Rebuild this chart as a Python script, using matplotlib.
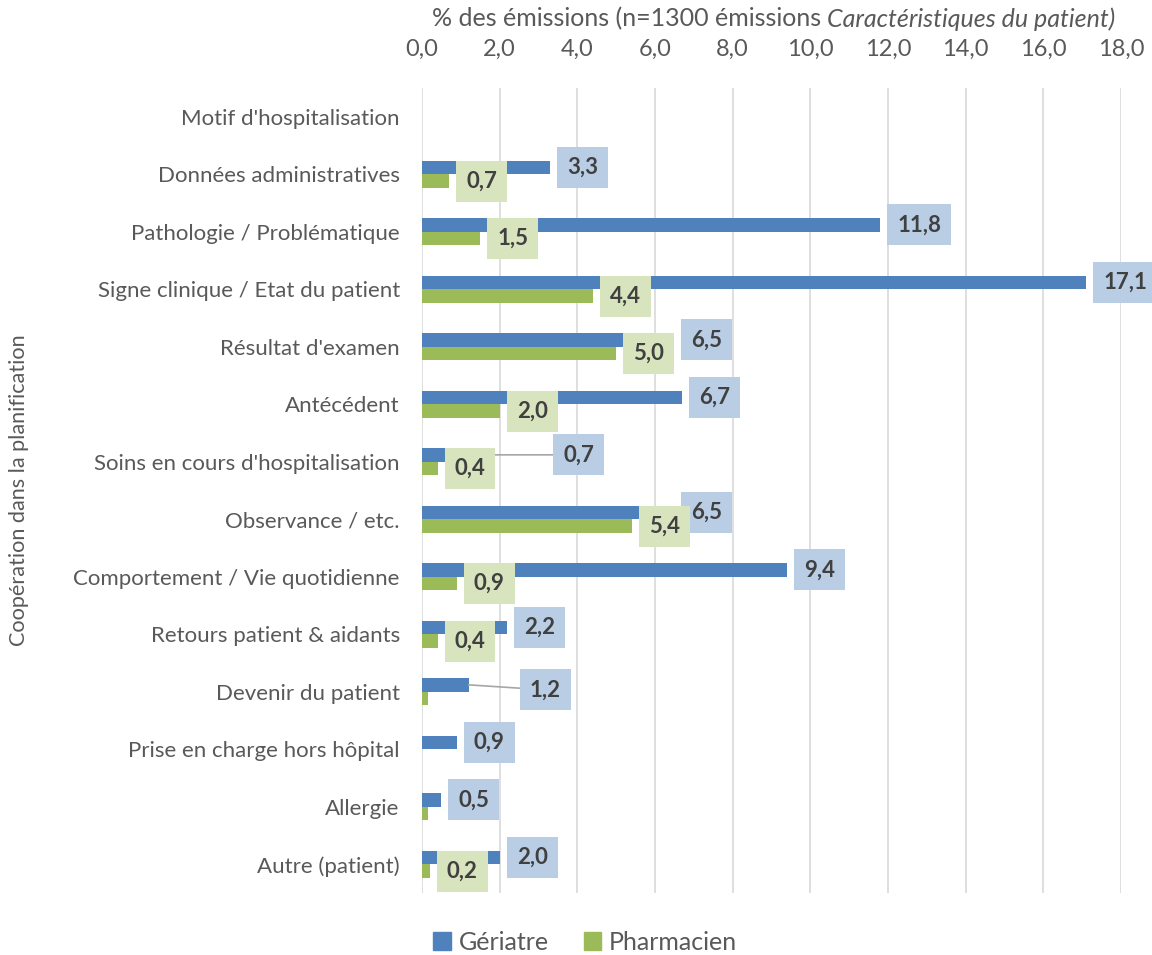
import matplotlib
matplotlib.use("Agg")
import matplotlib.pyplot as plt
from matplotlib.patches import Patch

categories = ["Motif d'hospitalisation", "Données administratives", "Pathologie / Problématique",
              "Signe clinique / Etat du patient", "Résultat d'examen", "Antécédent",
              "Soins en cours d'hospitalisation", "Observance / etc.", "Comportement / Vie quotidienne",
              "Retours patient & aidants", "Devenir du patient", "Prise en charge hors hôpital",
              "Allergie", "Autre (patient)"]
geriatre = [0, 3.3, 11.8, 17.1, 6.5, 6.7, 0.7, 6.5, 9.4, 2.2, 1.2, 0.9, 0.5, 2.0]
pharmacien = [0, 0.7, 1.5, 4.4, 5.0, 2.0, 0.4, 5.4, 0.9, 0.4, 0.15, 0, 0.15, 0.2]
# which labels are displayed (Excel hid some)
show_g = [False] + [True] * 13
show_p = [False, True, True, True, True, True, True, True, True, True, False, False, False, True]
xticks = [0, 2, 4, 6, 8, 10, 12, 14, 16, 18]

plt.rcParams['font.family'] = ['Lato', 'DejaVu Sans']
BLUE, GREEN = '#4F81BD', '#9BBB59'
BLUE_BOX, GREEN_BOX = '#B9CDE5', '#D7E4BD'
TXT = '#595959'

fig = plt.figure(figsize=(11.52, 9.55), dpi=100)
ax = fig.add_axes([422/1152, 1-893/955, (1121-422)/1152, (893-88)/955])

n = len(categories)
ys = list(range(n))
off, h = 0.12, 0.235
ax.barh([y - off for y in ys], geriatre, height=h, color=BLUE, zorder=3)
ax.barh([y + off for y in ys], pharmacien, height=h, color=GREEN, zorder=3)

ax.set_ylim(n - 0.5, -0.5)
ax.set_xlim(0, 18)
ax.set_yticks(ys)
ax.set_yticklabels(categories, fontsize=16, color=TXT)
ax.xaxis.tick_top()
ax.set_xticks(xticks)
ax.set_xticklabels([f"{v:.1f}".replace('.', ',') for v in xticks], fontsize=17, color=TXT)
ax.tick_params(axis='y', length=0, pad=16)
ax.tick_params(axis='x', length=0, pad=20)
ax.grid(axis='x', color='#D9D9D9', linewidth=1.2, zorder=0)
for s in ax.spines.values():
    s.set_visible(False)

# special label placements (pixels offset) for a few labels with leader lines
special_g = {6: (114, 0), 10: (61, -5)}

def fmt(v):
    return f"{v:.1f}".replace('.', ',')

LBL = 16
for i in ys:
    if show_g[i]:
        dx, dy = special_g.get(i, (17, 0))
        kw = {}
        if i in special_g:
            kw['arrowprops'] = dict(arrowstyle='-', color='#A6A6A6', lw=1.2, shrinkA=0, shrinkB=0,
                                    connectionstyle='arc3,rad=0.0')
        ax.annotate(fmt(geriatre[i]), xy=(geriatre[i], i - off), xytext=(dx, dy),
                    textcoords='offset pixels', ha='left', va='center', fontsize=LBL,
                    fontweight='bold', color='#404040', zorder=5, annotation_clip=False,
                    bbox=dict(boxstyle='square,pad=0.45', fc=BLUE_BOX, ec='none'), **kw)
    if show_p[i]:
        ax.annotate(fmt(pharmacien[i]), xy=(pharmacien[i], i + off), xytext=(17, 0),
                    textcoords='offset pixels', ha='left', va='center', fontsize=LBL,
                    fontweight='bold', color='#404040', zorder=5, annotation_clip=False,
                    bbox=dict(boxstyle='square,pad=0.45', fc=GREEN_BOX, ec='none'))

ax.set_ylabel("Coopération dans la planification", fontsize=15.6, color=TXT)
ax.yaxis.set_label_coords(-0.562, 0.5)

# title with italic part
fig.canvas.draw()
r = fig.canvas.get_renderer()
t1 = fig.text(0, 1-19/955, "% des émissions (n=1300 émissions ", fontsize=18, color=TXT,
              ha='left', va='center')
t2 = fig.text(0, 1-19/955, "Caractéristiques du patient)", fontsize=18, color=TXT,
              ha='left', va='center', style='italic')
w1 = t1.get_window_extent(r).width
w2 = t2.get_window_extent(r).width
cx = (430 + 1117) / 2
start = cx - (w1 + w2) / 2
t1.set_x(start / 1152)
t2.set_x((start + w1) / 1152)

handles = [Patch(color=BLUE, label='Gériatre'), Patch(color=GREEN, label='Pharmacien')]
fig.legend(handles=handles, loc='center', bbox_to_anchor=(585/1152, 1-942/955), ncol=2,
           frameon=False, fontsize=18, handlelength=0.7, handleheight=0.7,
           handletextpad=0.3, columnspacing=1.4, labelcolor=TXT)

fig.savefig('out.png', dpi=100)
